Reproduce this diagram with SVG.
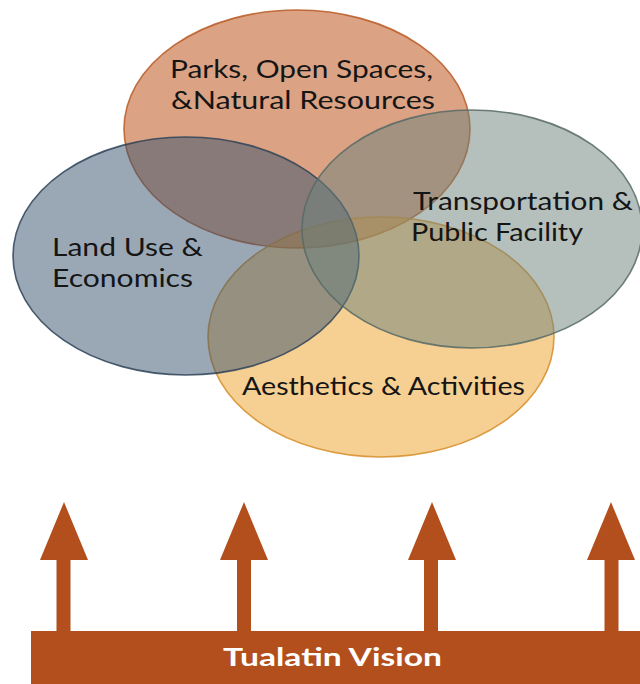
<svg xmlns="http://www.w3.org/2000/svg" width="640" height="684" viewBox="0 0 640 684">
<style>
.bubble{fill-opacity:0.5;stroke-width:1.6;stroke-opacity:0.85}
.lbl{font-family:Lato,"Open Sans","Liberation Sans",sans-serif;font-size:25px;fill:#151515}
.arrow{fill:#b24f1d}
.vision{font-family:Lato,"Open Sans","Liberation Sans",sans-serif;font-size:24px;font-weight:bold;fill:#ffffff}
</style>
<rect width="640" height="684" fill="#ffffff"/>
<g id="parks">
<ellipse class="bubble" cx="297" cy="129" rx="173" ry="119" fill="#b74507" stroke="#b85a25"/>
</g>
<g id="aesthetics">
<ellipse class="bubble" cx="381" cy="337" rx="173" ry="120" fill="#ed9f25" stroke="#d68e2a"/>
</g>
<g id="landuse">
<ellipse class="bubble" cx="186" cy="256" rx="173" ry="119" fill="#35516d" stroke="#2e4358"/>
</g>
<g id="transport">
<ellipse class="bubble" cx="472" cy="229" rx="170" ry="119" fill="#6b817b" stroke="#566a66"/>
</g>
<g id="labels">
<text class="lbl" x="170" y="78" textLength="263" lengthAdjust="spacingAndGlyphs">Parks, Open Spaces,</text>
<text class="lbl" x="171" y="109" textLength="264" lengthAdjust="spacingAndGlyphs">&amp;Natural Resources</text>
<text class="lbl" x="52" y="256" textLength="151" lengthAdjust="spacingAndGlyphs">Land Use &amp;</text>
<text class="lbl" x="52" y="287" textLength="141" lengthAdjust="spacingAndGlyphs">Economics</text>
<text class="lbl" x="413" y="210" textLength="220" lengthAdjust="spacingAndGlyphs">Transportation &amp;</text>
<text class="lbl" x="411" y="241" textLength="172" lengthAdjust="spacingAndGlyphs">Public Facility</text>
<text class="lbl" x="242" y="395" textLength="283" lengthAdjust="spacingAndGlyphs">Aesthetics &amp; Activities</text>
</g>
<g id="connectors">
<path class="arrow" d="M64 502 L88 560 L70.5 560 L70.5 632 L56.5 632 L56.5 560 L40 560 Z"/>
<path class="arrow" d="M244 502 L268 560 L251 560 L251 632 L237 632 L237 560 L220 560 Z"/>
<path class="arrow" d="M432 502 L456 560 L438 560 L438 632 L424 632 L424 560 L408 560 Z"/>
<path class="arrow" d="M611 502 L635 560 L618.5 560 L618.5 632 L604.5 632 L604.5 560 L587 560 Z"/>
</g>
<g id="vision">
<rect class="arrow" x="31" y="631" width="609" height="53"/>
<text class="vision" x="223" y="666" textLength="219" lengthAdjust="spacingAndGlyphs">Tualatin Vision</text>
</g>
</svg>
